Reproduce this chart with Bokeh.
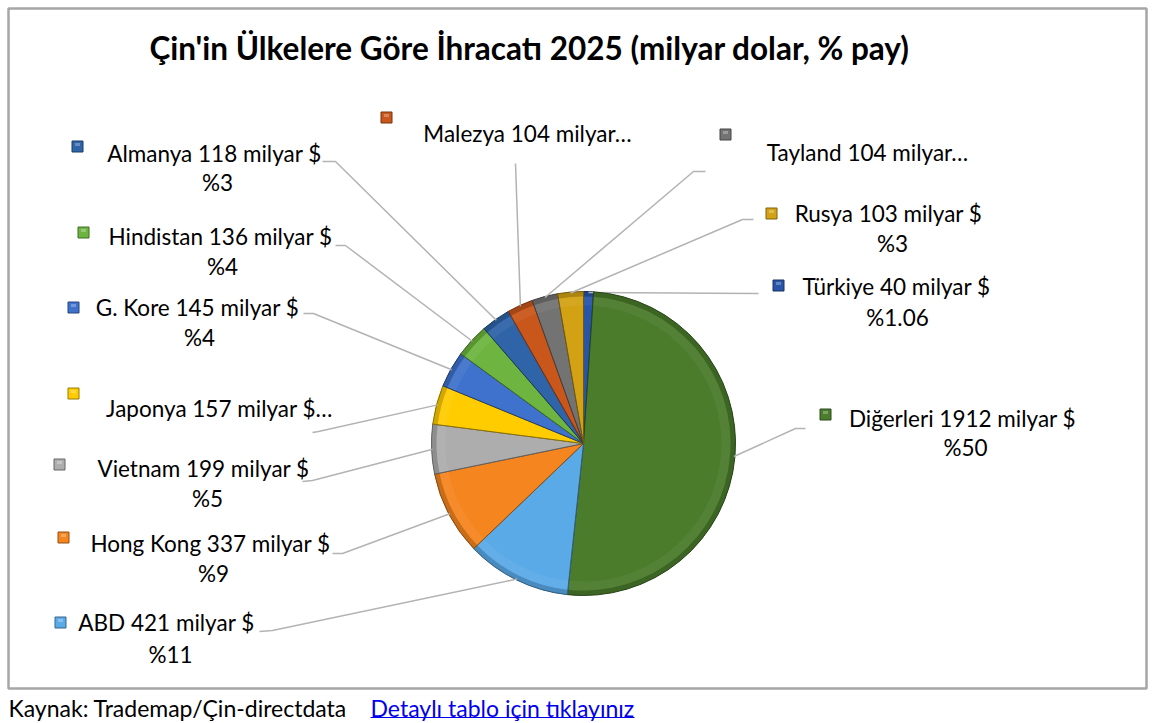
import math
from bokeh.plotting import figure
from bokeh.models import Range1d
from bokeh.embed import file_html
from bokeh.resources import INLINE
from bokeh.core.properties import value

# ---------------- data ----------------
countries = ["Türkiye", "Diğerleri", "ABD", "Hong Kong", "Vietnam", "Japonya",
             "G. Kore", "Hindistan", "Almanya", "Malezya", "Tayland", "Rusya"]
values = [40, 1912, 421, 337, 199, 157, 145, 136, 118, 104, 104, 103]
pct_text = ["%1.06", "%50", "%11", "%9", "%5", "", "%4", "%4", "%3", "", "", "%3"]
truncated = [False, False, False, False, False, True, False, False, False, True, True, False]
colors = ["#2855A8", "#4A7C2C", "#5AAAE8", "#F5851F", "#ADADAD", "#FFCC00",
          "#3F72CC", "#6DB540", "#2F64A8", "#C9561A", "#737373", "#D2A214"]
title_text = "Çin'in Ülkelere Göre İhracatı 2025 (milyar dolar, % pay)"
source_text = "Kaynak: Trademap/Çin-directdata"
link_text = "Detaylı tablo için tıklayınız"

# ---------------- layout (page pixel coordinates) ----------------
W, H = 1150, 722
CX, CY, R = 583, 443, 152
FONT = "Lato"
LABEL_SIZE = "22.5px"

# marker, line1 centre, line2 centre, leader end, leader elbow
layout = {
    "Türkiye":   dict(m=(778, 285), t1=(896, 286), t2=(897, 317), end=(758, 293), elb=(756, 293)),
    "Diğerleri": dict(m=(825, 414), t1=(962, 418), t2=(965, 447), end=(805, 428), elb=(795, 428)),
    "ABD":       dict(m=(60, 622),  t1=(166, 622), t2=(170, 654), end=(259, 631), elb=(272, 630)),
    "Hong Kong": dict(m=(63, 537),  t1=(210, 543), t2=(213, 573), end=(332, 553), elb=(342, 553)),
    "Vietnam":   dict(m=(59, 464),  t1=(203, 468), t2=(207, 498), end=(302, 481), elb=(312, 480)),
    "Japonya":   dict(m=(73, 393),  t1=(219, 408), t2=None,       end=(312, 432), elb=(318, 431)),
    "G. Kore":   dict(m=(73, 307),  t1=(197, 307), t2=(199, 337), end=(303, 313), elb=(313, 313)),
    "Hindistan": dict(m=(83, 232),  t1=(220, 236), t2=(222, 266), end=(335, 245), elb=(345, 245)),
    "Almanya":   dict(m=(77, 146),  t1=(214, 153), t2=(217, 182), end=(322, 161), elb=(335, 161)),
    "Malezya":   dict(m=(386, 117), t1=(527, 133), t2=None,       end=(515, 163), elb=(515, 163)),
    "Tayland":   dict(m=(725, 134), t1=(867, 152), t2=None,       end=(705, 171), elb=(693, 171)),
    "Rusya":     dict(m=(771, 213), t1=(888, 213), t2=(892, 243), end=(753, 219), elb=(742, 219)),
}


def P(X, Y):
    return X, H - Y


def shade(hexc, f):
    h = hexc.lstrip("#")
    r, g, b = int(h[0:2], 16), int(h[2:4], 16), int(h[4:6], 16)
    if f < 1:
        r, g, b = int(r * f), int(g * f), int(b * f)
    else:
        k = f - 1
        r, g, b = int(r + (255 - r) * k), int(g + (255 - g) * k), int(b + (255 - b) * k)
    return "#%02x%02x%02x" % (r, g, b)


p = figure(width=W, height=H, output_backend="svg", toolbar_location=None,
           x_range=Range1d(0, W), y_range=Range1d(0, H), min_border=0)
p.axis.visible = False
p.grid.visible = False
p.outline_line_color = None
p.background_fill_color = "white"
p.border_fill_color = "white"

# chart border
bx0, by0 = P(8, 8)
bx1, by1 = P(1146, 688)
p.quad(left=bx0, right=bx1, top=by0, bottom=by1, fill_color=None,
       line_color="#A6A6A6", line_width=2.5)

# title
tx, ty = P(529, 47)
p.text(x=[tx], y=[ty], text=[title_text], text_align="center", text_baseline="middle",
       text_font=value(FONT), text_font_style="bold", text_font_size="31.5px", text_color="#000000")

# pie
total = float(sum(values))
cxd, cyd = P(CX, CY)
cum = 0.0
for name, v, col in zip(countries, values, colors):
    t0 = cum / total * 2 * math.pi
    cum += v
    t1 = cum / total * 2 * math.pi
    sa, ea = math.pi / 2 - t0, math.pi / 2 - t1
    p.wedge(x=cxd, y=cyd, radius=R, radius_units="screen", start_angle=sa, end_angle=ea,
            direction="clock", fill_color=col, line_color=None)
    # bevel: dark rim and light inner highlight
    p.annular_wedge(x=cxd, y=cyd, inner_radius=R - 5, outer_radius=R, inner_radius_units="screen",
                    outer_radius_units="screen", start_angle=sa, end_angle=ea, direction="clock",
                    fill_color=shade(col, 0.7), fill_alpha=0.6, line_color=None)
    p.annular_wedge(x=cxd, y=cyd, inner_radius=R - 14, outer_radius=R - 5, inner_radius_units="screen",
                    outer_radius_units="screen", start_angle=sa, end_angle=ea, direction="clock",
                    fill_color=shade(col, 1.25), fill_alpha=0.22, line_color=None)
    p.wedge(x=cxd, y=cyd, radius=R, radius_units="screen", start_angle=sa, end_angle=ea,
            direction="clock", fill_color=None, line_color=shade(col, 0.55), line_width=1)

    # leader line from slice edge to label
    tm = (t0 + t1) / 2
    ex, ey = cxd + (R - 1) * math.sin(tm), cyd + (R - 1) * math.cos(tm)
    L = layout[name]
    elx, ely = P(*L["elb"])
    enx, eny = P(*L["end"])
    p.line(x=[ex, elx, enx], y=[ey, ely, eny], line_color="#B3B3B3", line_width=1.5)

    # marker
    mx, my = P(*L["m"])
    p.rect(x=[mx], y=[my], width=11, height=11, width_units="screen", height_units="screen",
           fill_color=col, line_color=shade(col, 0.6), line_width=1)
    p.rect(x=[mx], y=[my + 2], width=5, height=3, width_units="screen", height_units="screen",
           fill_color=shade(col, 1.35), line_color=None, fill_alpha=0.8)

    # label text
    if truncated[countries.index(name)]:
        if name == "Japonya":
            line1 = f"{name} {v} milyar $…"
        else:
            line1 = f"{name} {v} milyar…"
    else:
        line1 = f"{name} {v} milyar $"
    x1, y1 = P(*L["t1"])
    p.text(x=[x1], y=[y1], text=[line1], text_align="center", text_baseline="middle",
           text_font=value(FONT), text_font_size=LABEL_SIZE, text_color="#000000")
    pct = pct_text[countries.index(name)]
    if pct and L["t2"] is not None:
        x2, y2 = P(*L["t2"])
        p.text(x=[x2], y=[y2], text=[pct], text_align="center", text_baseline="middle",
               text_font=value(FONT), text_font_size=LABEL_SIZE, text_color="#000000")

# footer
fx, fy = P(8, 707)
p.text(x=[fx], y=[fy], text=[source_text], text_align="left", text_baseline="middle",
       text_font=value(FONT), text_font_size="23px", text_color="#000000")
lx, ly = P(370, 707)
p.text(x=[lx], y=[ly], text=[link_text], text_align="left", text_baseline="middle",
       text_font=value(FONT), text_font_size="23px", text_color="#0000EE")
ux0, uy = P(370, 717)
ux1, _ = P(634, 717)
p.segment(x0=[ux0], y0=[uy], x1=[ux1], y1=[uy], line_color="#0000EE", line_width=1.2)

open("out.html", "w").write(file_html(p, INLINE))
